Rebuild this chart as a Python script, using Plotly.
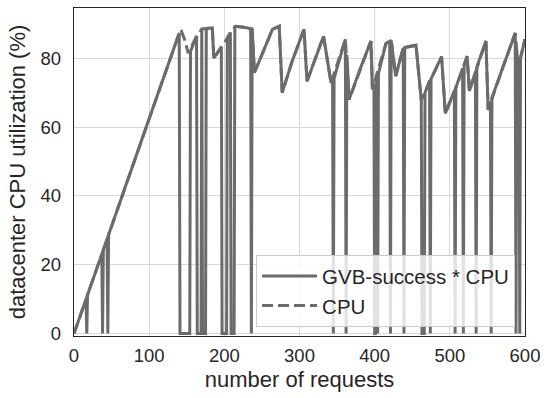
import plotly.graph_objects as go

# CPU utilisation (dashed) - vertices
cpu_x = [0, 20, 45, 70, 100, 125, 136, 140, 143, 147, 152, 160, 170, 178, 184, 186, 200, 215, 226,
         237, 240, 252, 264, 273, 277, 290, 306, 310, 332, 342, 361, 366, 380, 395, 397, 415, 422,
         428, 438, 455, 462, 475, 489, 494, 510, 523, 526, 548, 551, 570, 587, 591, 600]
cpu_y = [0, 12.5, 28, 44, 62.5, 78, 85, 87.3, 87.8, 85.5, 81.5, 85, 88.5, 88.7, 88.8, 80, 84.5, 89.3, 89,
         88.5, 75.8, 82, 88.4, 89.3, 70, 79, 88.4, 73.3, 86.4, 72.8, 85.5, 68, 76.5, 85, 71, 84.3, 85.2,
         74.8, 83, 83.8, 67.8, 74, 80.5, 64, 72.5, 80.6, 70.5, 85, 65, 77, 87.3, 77.5, 85.5]

# GVB-success * CPU (solid) - vertices, drops to 0 on failures
gvb_x = [0, 16, 17, 18, 20, 37, 38, 39, 44, 45, 46, 70, 100, 125, 136, 140, 141, 154, 155,
         160, 163, 164, 169, 170, 171, 175, 176, 178, 184, 186, 196, 197, 203, 204, 208, 209, 213, 214,
         215, 226, 235, 236, 237, 240, 252, 264, 273, 277, 290, 306, 310, 332, 342, 344, 345, 346,
         361, 362, 363, 366, 380, 395, 397, 399, 400, 401, 402, 403, 404, 405, 415, 420, 421, 422,
         428, 438, 439, 440, 455, 462, 463, 466, 467, 473, 474, 475, 489, 494, 506, 507, 508, 517,
         518, 519, 523, 526, 534, 535, 536, 548, 551, 554, 555, 556, 570, 586, 587, 588, 589, 591,
         592, 593, 594, 600]
gvb_y = [0, 10, 0, 11.2, 12.5, 23, 0, 24.4, 27.5, 0, 28.7, 44, 62.5, 78, 85, 87.3, 0, 0, 82,
         85, 86.5, 0, 0, 88.5, 0, 0, 88.6, 88.7, 88.8, 80, 83.3, 0, 0, 86, 87.5, 0, 0, 89.2,
         89.3, 89, 88.6, 0, 88.5, 75.8, 82, 88.4, 89.3, 70, 79, 88.4, 73.3, 86.4, 72.8, 73.5, 0, 74.2,
         85.5, 0, 81, 68, 76.5, 85, 71, 72.5, 0, 0, 74, 74.5, 0, 75.5, 84.3, 84.9, 0, 85.2,
         74.8, 83, 0, 83.1, 83.8, 67.8, 0, 0, 70, 73.5, 0, 74, 80.5, 64, 70.5, 0, 71.5, 77,
         0, 78, 80.6, 70.5, 76, 0, 77.5, 85, 65, 67.5, 0, 68.5, 77, 86.8, 87.3, 0, 82, 77.5,
         79, 0, 80, 85.5]

x_ticks = [0, 100, 200, 300, 400, 500, 600]
y_ticks = [0, 20, 40, 60, 80]

LINE = "#6b6b6b"
TXT = "#262626"
FONT = "Liberation Sans, Arial, sans-serif"

fig = go.Figure()
fig.add_trace(go.Scatter(x=gvb_x, y=gvb_y, mode="lines", name="GVB-success * CPU",
                         line=dict(color=LINE, width=3)))
fig.add_trace(go.Scatter(x=cpu_x, y=cpu_y, mode="lines", name="CPU",
                         line=dict(color=LINE, width=3, dash="11px,5px")))

fig.update_layout(
    width=547, height=398,
    margin=dict(l=74, r=20, t=7, b=62),
    paper_bgcolor="white", plot_bgcolor="white",
    font=dict(family=FONT, size=18.5, color=TXT),
    showlegend=True,
    legend=dict(x=0.978, y=0.027, xanchor="right", yanchor="bottom",
                bgcolor="rgba(255,255,255,0.8)", bordercolor="#cccccc", borderwidth=1,
                font=dict(size=20.5, color=TXT), tracegroupgap=0, itemwidth=55),
)
fig.update_xaxes(range=[0, 600], tickvals=x_ticks, showgrid=True, gridcolor="#d9d9d9", gridwidth=1,
                 showline=True, linecolor="#262626", linewidth=1.3, mirror=True, zeroline=False,
                 ticks="", ticklabelstandoff=3, title=dict(text="number of requests", standoff=6))
fig.update_yaxes(range=[-0.7, 94.6], tickvals=y_ticks, showgrid=True, gridcolor="#d9d9d9", gridwidth=1,
                 showline=True, linecolor="#262626", linewidth=1.3, mirror=True, zeroline=False,
                 ticks="", ticklabelstandoff=8, title=dict(text="datacenter CPU utilization (%)", standoff=8))

fig.write_html("out.html")
